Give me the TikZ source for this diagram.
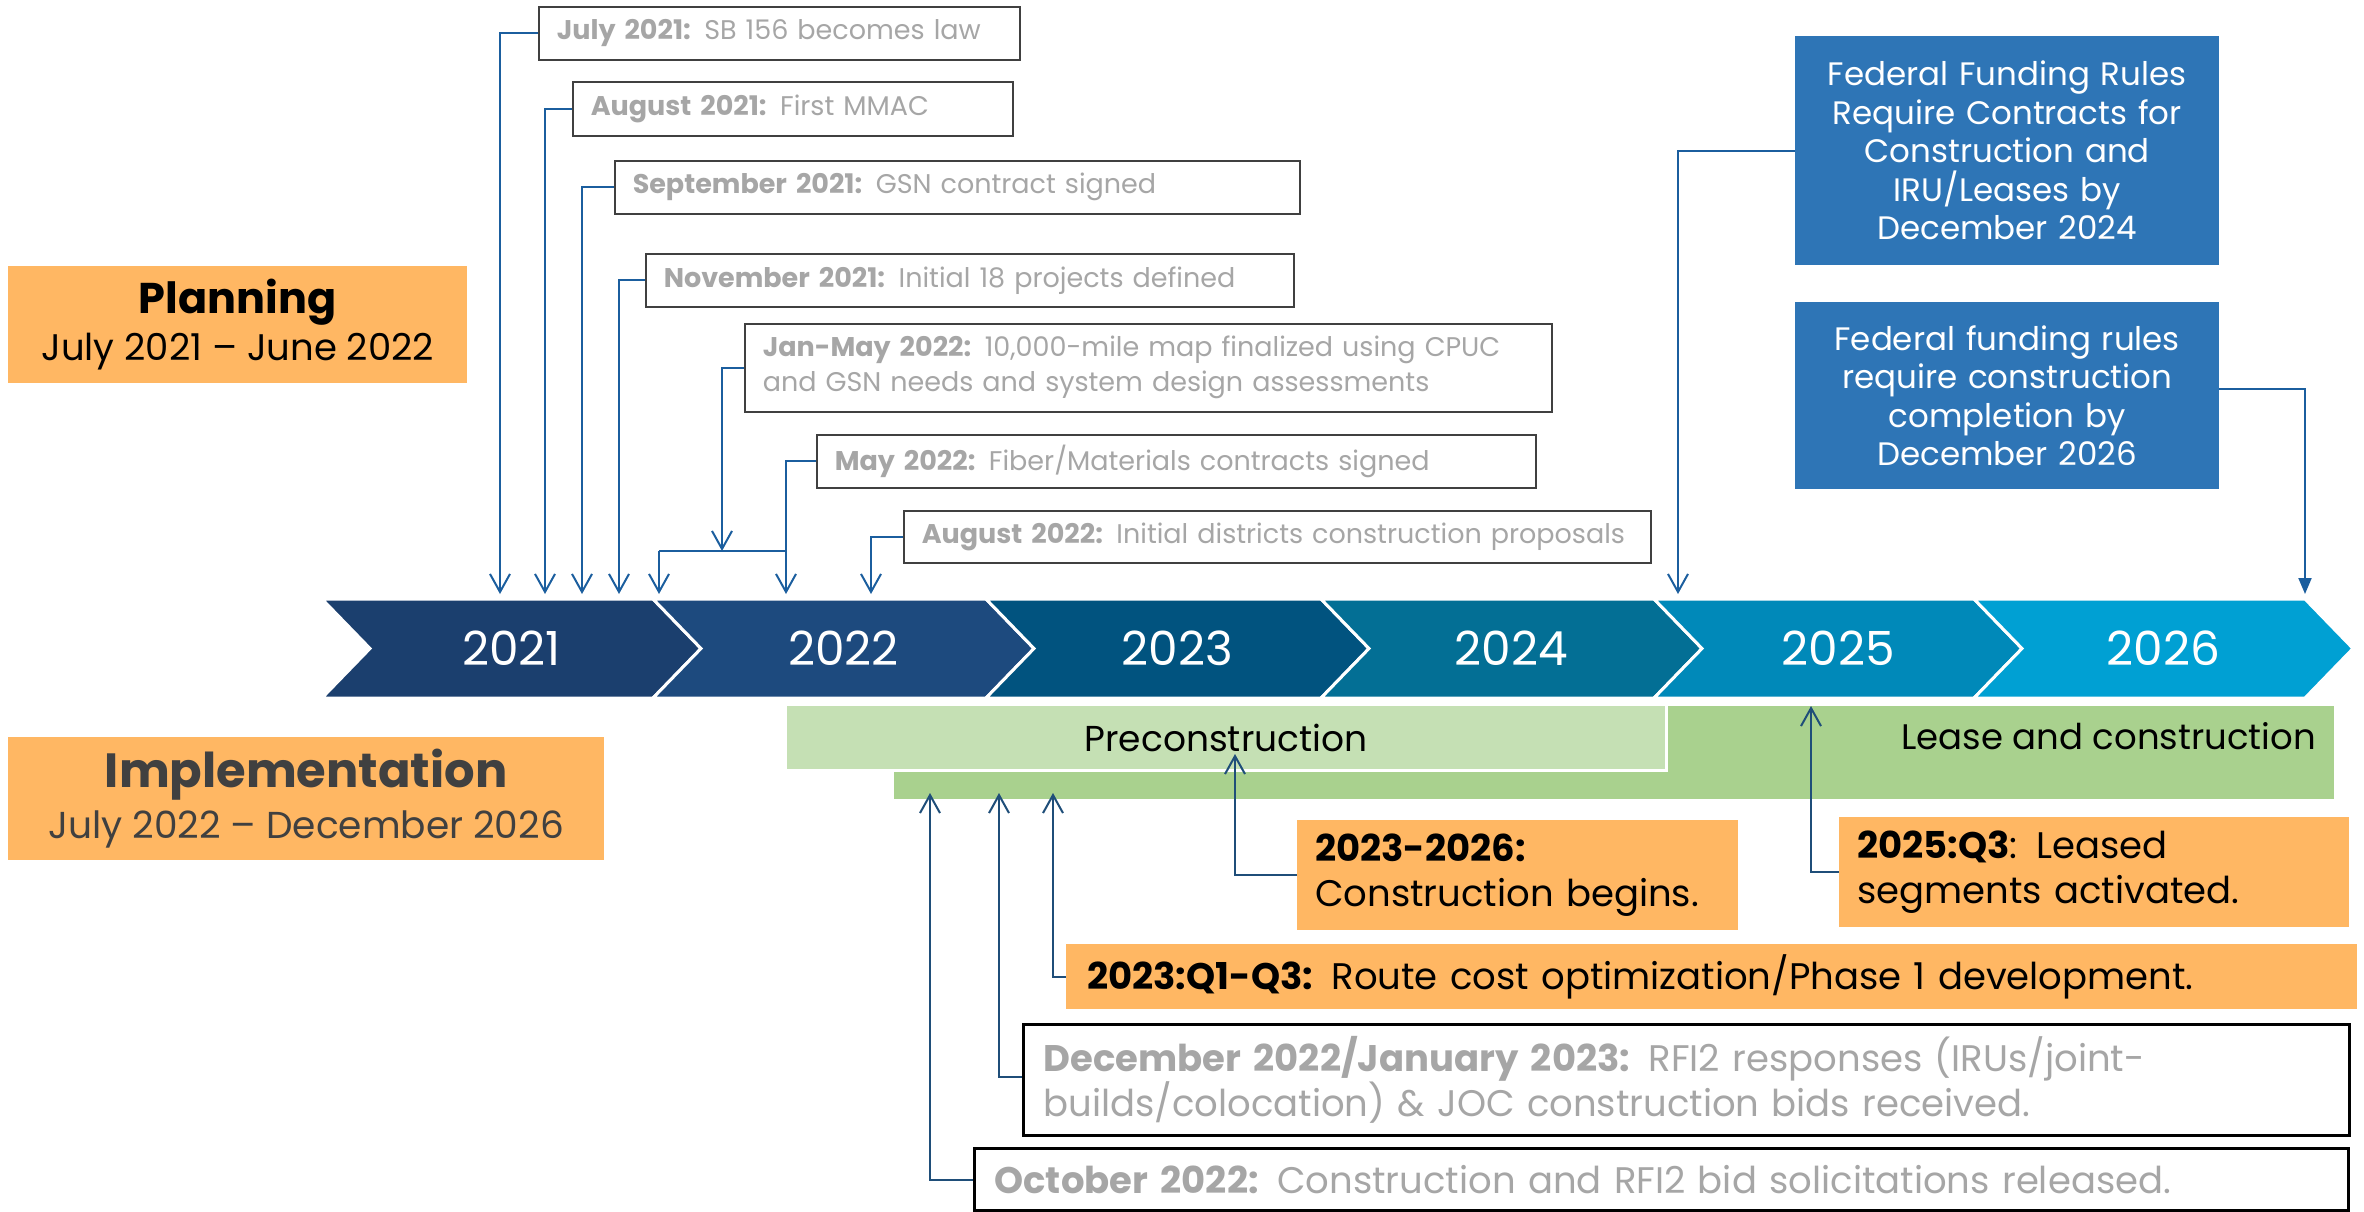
\documentclass[tikz,border=0pt]{standalone}
\usepackage{fontspec}
\setmainfont{Poppins}
\usetikzlibrary{arrows.meta}
\definecolor{cA}{RGB}{27,63,110}
\definecolor{cB}{RGB}{29,74,126}
\definecolor{cC}{RGB}{1,83,127}
\definecolor{cD}{RGB}{3,111,149}
\definecolor{cE}{RGB}{0,137,185}
\definecolor{cF}{RGB}{0,160,211}
\definecolor{orng}{RGB}{255,183,99}
\definecolor{fedblue}{RGB}{46,117,182}
\definecolor{pregreen}{RGB}{197,224,180}
\definecolor{leasegreen}{RGB}{169,209,142}
\definecolor{txtgray}{RGB}{166,166,166}
\definecolor{dkgray}{RGB}{64,64,64}
\definecolor{lineT}{RGB}{27,94,158}
\definecolor{lineB}{RGB}{31,78,121}
\newcommand\mychev[5]{%
  \fill[#4, draw=white, line width=3] (#1,599) -- (#2,599) -- (#2+48,648.5) -- (#2,698) -- (#1,698) -- (#1+48,648.5) -- cycle;
  \node[yearlab] (#5) at ({(#1+#2)/2+24},648.5) {#3};}
\begin{document}
\begin{tikzpicture}[x=1pt,y=-1pt,
  yearlab/.style={text=white, font=\fontsize{47}{50}\selectfont},
  topbox/.style={draw=dkgray, line width=1.5, fill=white, anchor=north west, inner xsep=18, inner ysep=0, text=txtgray, align=left, font=\fontsize{27}{35}\selectfont},
  fedbox/.style={fill=fedblue, anchor=north west, inner sep=0, minimum width=424, text width=416, text=white, align=center, font=\fontsize{32.5}{38.5}\selectfont},
  obox/.style={fill=orng, anchor=north west, inner xsep=18, inner ysep=0, align=left, font=\fontsize{37}{45}\selectfont},
  wbox/.style={draw=black, line width=3, fill=white, anchor=north west, inner xsep=20, inner ysep=0, text=txtgray, align=left, font=\fontsize{37}{45}\selectfont},
  arrT/.style={draw=lineT, line width=2, -{Straight Barb[length=18,width=20,line width=2]}},
  arrF/.style={draw=lineT, line width=2, -{Triangle[length=16,width=13]}},
  arrB/.style={draw=lineB, line width=2, -{Straight Barb[length=18,width=20,line width=2]}},
  lineonly/.style={draw=lineT, line width=2}
]
\useasboundingbox (0,0) rectangle (2364,1211);

% timeline
\mychev{322}{653}{2021}{cA}{y1}
\mychev{653}{986}{2022}{cB}{y2}
\mychev{986}{1321}{2023}{cC}{y3}
\mychev{1321}{1654}{2024}{cD}{y4}
\mychev{1654}{1974}{2025}{cE}{y5}
\mychev{1974}{2305}{2026}{cF}{y6}

% phase boxes
\node[fill=orng, anchor=north west, minimum width=459, minimum height=117, inner sep=0, align=center, font=\fontsize{37}{47}\selectfont] (plan) at (8,266)
  {{\fontsize{43}{47}\selectfont\bfseries Planning}\\July 2021 – June 2022};
\node[fill=orng, anchor=north west, minimum width=596, minimum height=123, inner sep=0, align=center, text=dkgray, font=\fontsize{37.5}{51}\selectfont] (impl) at (8,737)
  {{\fontsize{48}{51}\selectfont\bfseries Implementation}\\July 2022 – December 2026};

% top boxes
\node[topbox, text width=445, minimum height=53] (jul) at (538,6) {\textbf{July 2021:} SB 156 becomes law};
\node[topbox, text width=404, minimum height=54] (aug) at (572,81) {\textbf{August 2021:} First MMAC};
\node[topbox, text width=649, minimum height=53] (sep) at (614,160) {\textbf{September 2021:} GSN contract signed};
\node[topbox, text width=612, minimum height=53] (nov) at (645,253) {\textbf{November 2021:} Initial 18 projects defined};
\node[topbox, text width=771, minimum height=88] (jan) at (744,323) {\textbf{Jan-May 2022:} 10,000-mile map finalized using CPUC\\and GSN needs and system design assessments};
\node[topbox, text width=683, minimum height=53] (may) at (816,434) {\textbf{May 2022:} Fiber/Materials contracts signed};
\node[topbox, text width=711, minimum height=52] (augb) at (903,510) {\textbf{August 2022:} Initial districts construction proposals};

% federal boxes
\node[fedbox, minimum height=229] (ffa) at (1795,36) {Federal Funding Rules\\Require Contracts for\\Construction and\\IRU/Leases by\\December 2024};
\node[fedbox, minimum height=187] (ffb) at (1795,302) {Federal funding rules\\require construction\\completion by\\December 2026};

% green bars
\node[fill=leasegreen, draw=white, line width=2, anchor=north west, minimum width=1442, minimum height=95, inner sep=0] (lease) at (892,704) {};
\node[anchor=east, inner sep=0, font=\fontsize{35.5}{40}\selectfont] (leaselab) at (2316,736) {Lease and construction};
\node[fill=pregreen, draw=white, line width=3, anchor=north west, minimum width=881, minimum height=66, inner sep=0, font=\fontsize{36}{40}\selectfont] (pre) at (784,703) {Preconstruction};

% bottom boxes
\node[obox, text width=405, minimum height=110] (cb) at (1297,820) {\textbf{2023-2026:}\\Construction begins.};
\node[obox, text width=474, minimum height=110] (lq) at (1839,817) {\textbf{2025:Q3}: Leased\\segments activated.};
\node[obox, inner xsep=21, text width=1249, minimum height=65] (rq) at (1066,944) {\textbf{2023:Q1-Q3:} Route cost optimization/Phase 1 development.};
\node[wbox, text width=1286, minimum height=111] (dec) at (1022,1023) {\textbf{December 2022/January 2023:} RFI2 responses (IRUs/joint-\\builds/colocation) \& JOC construction bids received.};
\node[wbox, text width=1334, minimum height=62] (oct) at (973,1147) {\textbf{October 2022:} Construction and RFI2 bid solicitations released.};

% connector endpoints
\coordinate (tjul) at (500,594);
\coordinate (taug) at (545,594);
\coordinate (tsep) at (582,594);
\coordinate (tnov) at (619,594);
\coordinate (tjan) at (722,551);
\coordinate (bl) at (659,551);
\coordinate (br) at (786,551);
\coordinate (tbl) at (659,594);
\coordinate (tmay) at (786,594);
\coordinate (taugb) at (871,594);
\coordinate (tffa) at (1678,594);
\coordinate (tffb) at (2305,594);
\coordinate (tcb) at (1235,754);
\coordinate (tlq) at (1811,706);
\coordinate (trq) at (1053,793);
\coordinate (tdec) at (999,793);
\coordinate (toct) at (930,793);

% top connectors
\draw[arrT] (jul.west) -| (tjul);
\draw[arrT] (aug.west) -| (taug);
\draw[arrT] (sep.west) -| (tsep);
\draw[arrT] (nov.west) -| (tnov);
\draw[arrT] (jan.west) -| (tjan);
\draw[lineonly] (bl) -- (br);
\draw[arrT] (bl) -- (tbl);
\draw[arrT] (may.west) -| (tmay);
\draw[arrT] (augb.west) -| (taugb);
\draw[arrT] (ffa.west) -| (tffa);
\draw[arrF] ([yshift=7]ffb.east) -| (tffb);

% bottom connectors
\draw[arrB] (cb.west) -| (tcb);
\draw[arrB] (lq.west) -| (tlq);
\draw[arrB] (rq.west) -| (trq);
\draw[arrB] ([yshift=3]dec.west) -| (tdec);
\draw[arrB] (oct.west) -| (toct);
\end{tikzpicture}
\end{document}
